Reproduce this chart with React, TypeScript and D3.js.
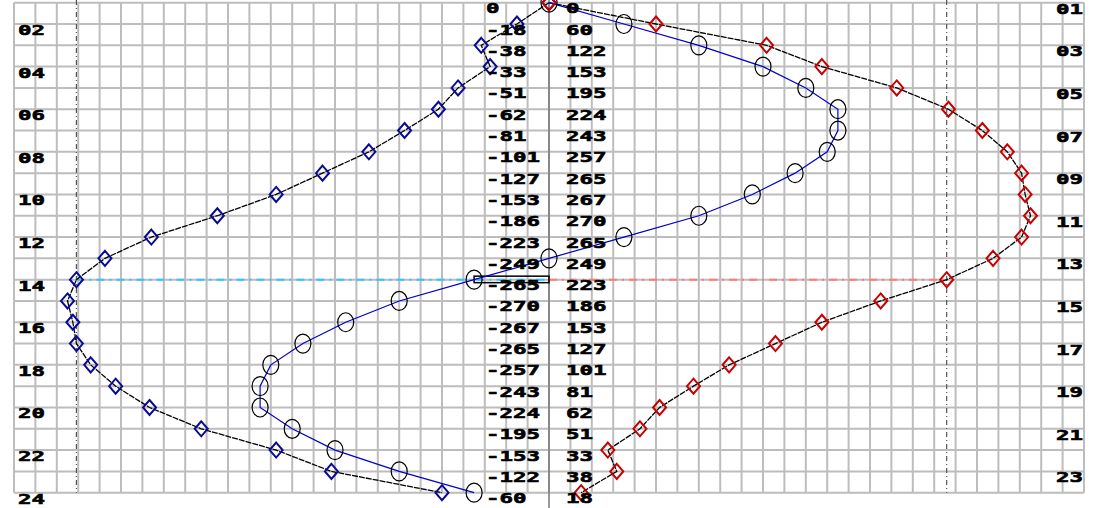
import React from 'react';
import * as d3 from 'd3';

const rows = [1,2,3,4,5,6,7,8,9,10,11,12,13,14,15,16,17,18,19,20,21,22,23,24];
const leftRowLabels = ['02','04','06','08','10','12','14','16','18','20','22','24'];
const rightRowLabels = ['01','03','05','07','09','11','13','15','17','19','21','23'];
const negValues = [0,-18,-38,-33,-51,-62,-81,-101,-127,-153,-186,-223,-249,-265,-270,-267,-265,-257,-243,-224,-195,-153,-122,-60];
const posValues = [0,60,122,153,195,224,243,257,265,267,270,265,249,223,186,153,127,101,81,62,51,33,38,18];
const netValues = [0,42,84,120,144,162,162,156,138,114,84,42,0,-42,-84,-114,-138,-156,-162,-162,-144,-120,-84,-42];
const highlightRow = 14;

const W = 1094, H = 508;

export default function App() {
  const x = d3.scaleLinear().domain([-300, 300]).range([14, 1084]);
  const y = d3.scaleLinear().domain([1, 24]).range([2.7, 492.7]);
  const xTicks = d3.range(-300, 301, 12);

  const negPts = rows.map((r, i) => [x(negValues[i]), y(r)] as [number, number]);
  const posPts = rows.map((r, i) => [x(posValues[i]), y(r)] as [number, number]);
  const netPts = rows.map((r, i) => [x(netValues[i]), y(r)] as [number, number]);
  const line = d3.line();

  const hi = highlightRow - 1;
  const hy = y(highlightRow);
  const diamond = (cx: number, cy: number) => `M${cx},${cy - 7.5}L${cx + 6.5},${cy}L${cx},${cy + 7.5}L${cx - 6.5},${cy}Z`;
  const font = "'DejaVu Sans Mono', monospace";
  const txt = (s: string, tx: number, ty: number, key: string) => (
    <text key={key} transform={`translate(${tx},${ty}) scale(1.55,1)`} fontFamily={font} fontWeight="bold" fontSize={14.5} fill="#000" stroke="#000" strokeWidth={0.6}>{s}</text>
  );

  return (
    <svg width={W} height={H} style={{ position: 'absolute', left: 0, top: 0, background: '#fff' }}>
      <rect x={0} y={0} width={W} height={H} fill="#fff" />
      <g stroke="#bdbdbd" strokeWidth={2}>
        {xTicks.map(t => <line key={'v' + t} x1={x(t)} x2={x(t)} y1={y(1)} y2={y(24)} />)}
        {rows.map(r => <line key={'h' + r} x1={x(-300)} x2={x(300)} y1={y(r)} y2={y(r)} />)}
      </g>
      <line x1={x(negValues[hi])} x2={x(negValues[hi])} y1={0} y2={y(24)} stroke="#555" strokeWidth={1.2} strokeDasharray="5,3,1,3" />
      <line x1={x(posValues[hi])} x2={x(posValues[hi])} y1={0} y2={y(24)} stroke="#555" strokeWidth={1.2} strokeDasharray="5,3,1,3" />
      <line x1={x(0)} x2={x(0)} y1={0} y2={H} stroke="#777" strokeWidth={1.5} />
      <line x1={x(negValues[hi])} x2={x(0)} y1={hy} y2={hy} stroke="#33c4ff" strokeWidth={2} strokeDasharray="8,5,2,5" />
      <line x1={x(0)} x2={x(posValues[hi])} y1={hy} y2={hy} stroke="#ff7a7a" strokeWidth={2} strokeDasharray="8,5,2,5" />
      <rect x={x(netValues[hi])} y={hy - 3.5} width={x(0) - x(netValues[hi])} height={6.5} fill="none" stroke="#000" strokeWidth={1.5} />
      <path d={line(negPts) || ''} fill="none" stroke="#000" strokeWidth={1.3} strokeDasharray="6,1" />
      <path d={line(posPts) || ''} fill="none" stroke="#000" strokeWidth={1.3} strokeDasharray="6,1" />
      <path d={line(netPts) || ''} fill="none" stroke="#0000cc" strokeWidth={1.2} />
      {netPts.map((p, i) => <ellipse key={'c' + i} cx={p[0]} cy={p[1]} rx={8} ry={9.5} fill="none" stroke="#000" strokeWidth={1.2} />)}
      {negPts.map((p, i) => <path key={'n' + i} d={diamond(p[0], p[1])} fill="none" stroke="#0a0a96" strokeWidth={2} />)}
      {posPts.map((p, i) => <path key={'p' + i} d={diamond(p[0], p[1])} fill="none" stroke="#c80000" strokeWidth={2} />)}
      {rows.map((r, i) => txt(String(negValues[i]), 486, y(r) + 10.5, 'tn' + i))}
      {rows.map((r, i) => txt(String(posValues[i]), 566, y(r) + 10.5, 'tp' + i))}
      {leftRowLabels.map(l => txt(l, 18, y(+l) + 11, 'l' + l))}
      {rightRowLabels.map(l => txt(l, 1056, y(+l) + 11, 'r' + l))}
    </svg>
  );
}
